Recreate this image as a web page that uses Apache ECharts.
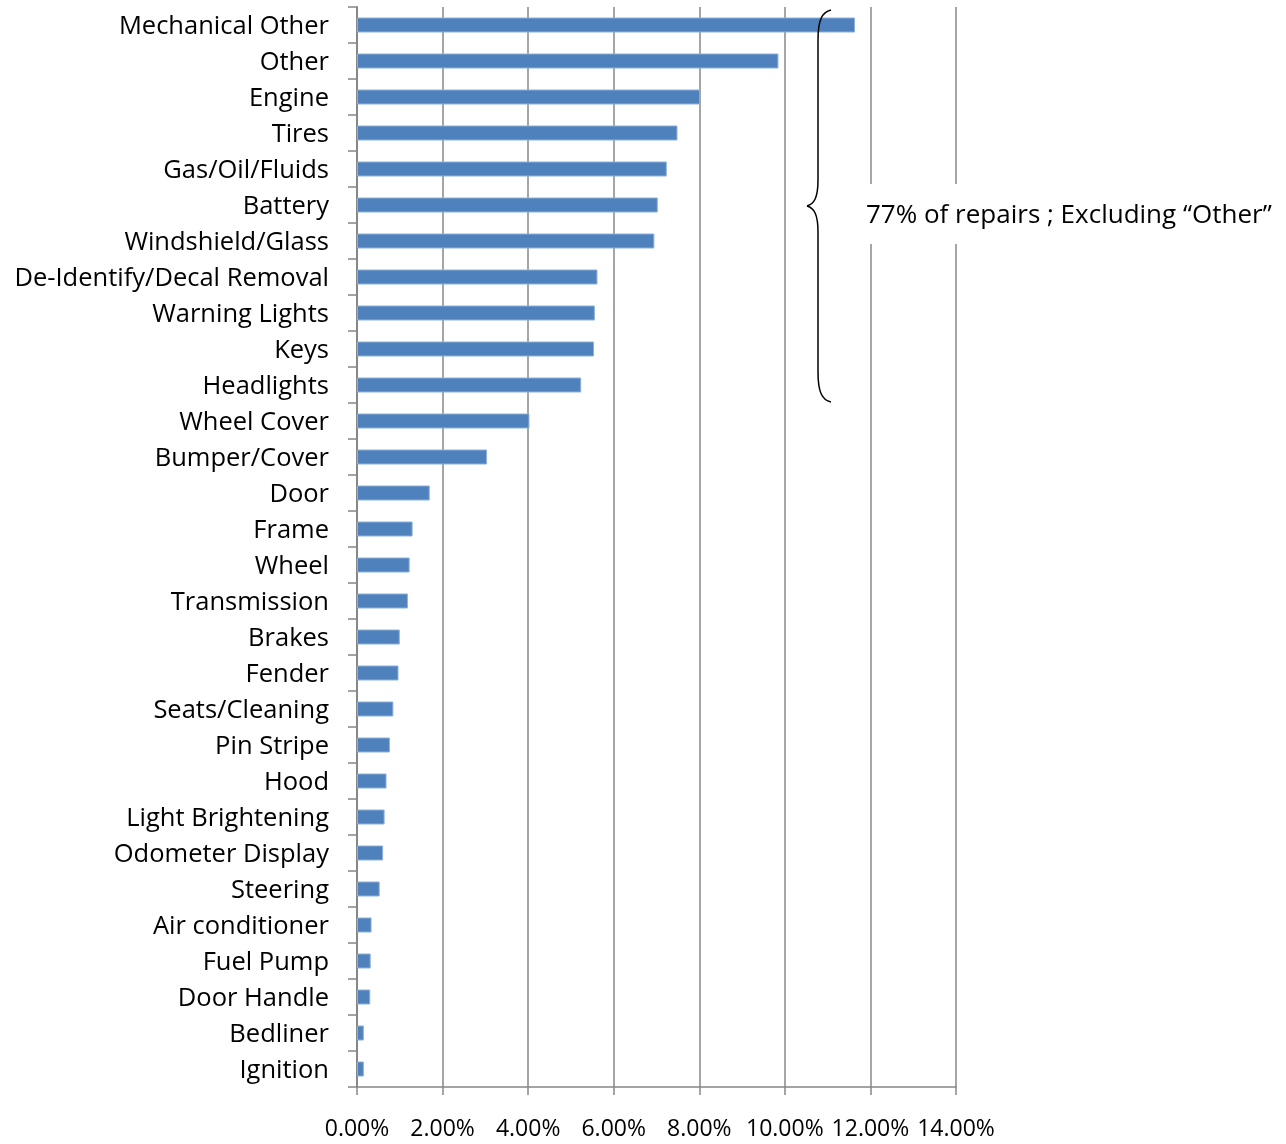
<!DOCTYPE html>
<html>
<head>
<meta charset="utf-8">
<script src="https://cdn.jsdelivr.net/npm/echarts@6/dist/echarts.min.js"></script>
<style>
  html, body { margin: 0; padding: 0; background: #fff; }
  #main { width: 1286px; height: 1144px; }
</style>
</head>
<body>
<div id="main"></div>
<script>
// repair categories, top to bottom
var categories = [
  "Mechanical Other", "Other", "Engine", "Tires", "Gas/Oil/Fluids", "Battery",
  "Windshield/Glass", "De-Identify/Decal Removal", "Warning Lights", "Keys",
  "Headlights", "Wheel Cover", "Bumper/Cover", "Door", "Frame", "Wheel",
  "Transmission", "Brakes", "Fender", "Seats/Cleaning", "Pin Stripe", "Hood",
  "Light Brightening", "Odometer Display", "Steering", "Air conditioner",
  "Fuel Pump", "Door Handle", "Bedliner", "Ignition"
];
// share of repairs (%)
var shares = [
  11.64, 9.85, 8.02, 7.49, 7.24, 7.03,
  6.95, 5.62, 5.56, 5.54,
  5.24, 4.03, 3.04, 1.70, 1.30, 1.23,
  1.19, 1.00, 0.97, 0.85, 0.77, 0.69,
  0.645, 0.61, 0.53, 0.34,
  0.32, 0.31, 0.16, 0.16
];
var xTicks = [0, 2, 4, 6, 8, 10, 12, 14];
var note = "77% of repairs ; Excluding \u201cOther\u201d";

var FONT = "Open Sans";
var GRAY = "#878787";

function curve(x1, y1, c1x, c1y, c2x, c2y, x2, y2) {
  return {
    type: "bezierCurve",
    shape: { x1: x1, y1: y1, cpx1: c1x, cpy1: c1y, cpx2: c2x, cpy2: c2y, x2: x2, y2: y2 },
    style: { fill: null, stroke: "#000", lineWidth: 1.5 },
    z: 10,
  };
}
function seg(x1, y1, x2, y2) {
  return {
    type: "line",
    shape: { x1: x1, y1: y1, x2: x2, y2: y2 },
    style: { stroke: "#000", lineWidth: 1.5 },
    z: 10,
  };
}

(function () {
  var myChart = echarts.init(document.getElementById("main"));
  var option = {
    animation: false,
    backgroundColor: "#fff",
    grid: {
      left: 357,
      right: 330,
      top: 7,
      bottom: 57,
      containLabel: false,
    },
    xAxis: {
      type: "value",
      min: xTicks[0],
      max: xTicks[xTicks.length - 1],
      interval: 2,
      axisLine: { show: true, lineStyle: { color: GRAY, width: 1.5 } },
      axisTick: { show: true, length: 8, lineStyle: { color: GRAY, width: 1.5 } },
      axisLabel: {
        margin: 31,
        color: "#000",
        fontFamily: FONT,
        fontSize: 23,
        formatter: function (v) {
          return v.toFixed(2) + "%";
        },
      },
      splitLine: { show: true, lineStyle: { color: GRAY, width: 1.5 } },
    },
    yAxis: {
      type: "category",
      inverse: true,
      data: categories,
      axisLine: { show: true, lineStyle: { color: GRAY, width: 2 } },
      axisTick: { show: true, length: 9, lineStyle: { color: GRAY, width: 1.5 } },
      axisLabel: {
        margin: 28,
        color: "#000",
        formatter: function (v) {
          return "{t|" + v + "}";
        },
        rich: {
          t: {
            fontFamily: FONT,
            fontSize: 25.5,
            color: "#000",
            padding: [4, 0, 0, 0],
          },
        },
      },
      splitLine: { show: false },
    },
    series: [
      {
        type: "bar",
        data: shares,
        barWidth: 15,
        itemStyle: {
          color: "#4f81bd",
          borderColor: "#8cb0dc",
          borderWidth: 1,
        },
        z: 3,
      },
    ],
    // 大括号 + 注释文字
    graphic: [
      curve(831, 10, 822, 12, 818, 20, 818, 40),
      seg(818, 40, 818, 180),
      curve(818, 180, 818, 198, 814, 204, 807, 206),
      curve(807, 206, 814, 208, 818, 214, 818, 232),
      seg(818, 232, 818, 372),
      curve(818, 372, 818, 392, 822, 400, 831, 402),
      {
        type: "rect",
        shape: { x: 858, y: 184, width: 428, height: 60 },
        style: { fill: "#fff" },
        z: 9,
      },
      {
        type: "text",
        left: 866,
        top: 203,
        style: {
          text: note,
          fill: "#000",
          font: "26px '" + FONT + "'",
        },
        z: 10,
      },
    ],
  };
  myChart.setOption(option);
  window.addEventListener("resize", function () {
    myChart.resize();
  });
})();
</script>
</body>
</html>
